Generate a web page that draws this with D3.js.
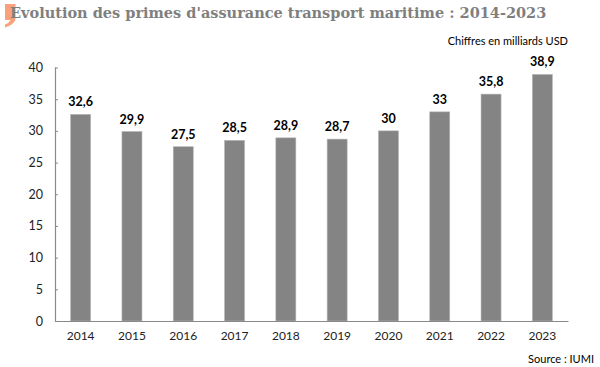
<!DOCTYPE html>
<html><head><meta charset="utf-8">
<script src="https://cdn.jsdelivr.net/npm/d3@7"></script>
<style>body{margin:0;background:#fff}svg{display:block}</style>
</head><body>
<script>
const years = ["2014","2015","2016","2017","2018","2019","2020","2021","2022","2023"];
const values = [32.6, 29.9, 27.5, 28.5, 28.9, 28.7, 30, 33, 35.8, 38.9];
const valueLabels = ["32,6","29,9","27,5","28,5","28,9","28,7","30","33","35,8","38,9"];
const yTicks = [0,5,10,15,20,25,30,35,40];
const title = "Evolution des primes d'assurance transport maritime : 2014-2023";
const subtitle = "Chiffres en milliards USD";
const source = "Source : IUMI";

const W = 600, H = 367;
const svg = d3.select("body").append("svg").attr("width", W).attr("height", H);

// decorative mark
svg.append("path")
  .attr("d", "M5,4 L15.5,4 L15.5,19 C14.5,23 10.5,26 5,27.5 L5,24.5 C7.5,23.5 9.5,22 10.5,20 L5,20 Z")
  .attr("fill", "#f7a27c");

const t = svg.append("text").attr("x", 10).attr("y", 17.5)
  .attr("font-family", "'DejaVu Serif', serif").attr("font-weight", "bold")
  .attr("font-size", 17).attr("fill", "#7f7f7f").text(title);
const tw = t.node().getComputedTextLength();
t.attr("font-size", 17 * 537 / tw);

svg.append("text").attr("x", 568).attr("y", 45).attr("text-anchor", "end")
  .attr("font-family", "Lato, sans-serif").attr("font-size", 11).attr("fill", "#000")
  .text(subtitle);
svg.append("text").attr("x", 594).attr("y", 363).attr("text-anchor", "end")
  .attr("font-family", "Lato, sans-serif").attr("font-size", 11).attr("fill", "#000")
  .text(source);

const x = d3.scaleBand().domain(years).range([55, 568]).paddingInner(0.61).paddingOuter(0.305);
const y = d3.scaleLinear().domain([0, 40]).range([321, 67.5]);

svg.selectAll("rect.bar").data(values).join("rect").attr("class","bar")
  .attr("x", (d,i) => x(years[i])).attr("width", x.bandwidth())
  .attr("y", d => y(d)).attr("height", d => y(0) - y(d))
  .attr("fill", "#848484").attr("stroke", "#b5b5b5").attr("stroke-width", 0.6);

svg.selectAll("text.vl").data(values).join("text").attr("class","vl")
  .attr("x", (d,i) => x(years[i]) + x.bandwidth()/2).attr("y", d => y(d) - 8)
  .attr("text-anchor", "middle").attr("font-family", "Lato, sans-serif")
  .attr("font-weight", "bold").attr("font-size", 12.5).attr("fill", "#000")
  .text((d,i) => valueLabels[i]);

const yAxis = svg.append("g").attr("transform", "translate(55,0)")
  .call(d3.axisRight(y).tickValues(yTicks).tickSize(3).tickFormat(""));
yAxis.select(".domain").attr("d", "M0.5,67.5V321").attr("stroke", "#8a8a8a").attr("stroke-width", 1.2);
yAxis.selectAll(".tick line").attr("stroke", "#8a8a8a");

svg.selectAll("text.yl").data(yTicks).join("text").attr("class","yl")
  .attr("x", 43).attr("y", d => y(d) + 4.5).attr("text-anchor", "end")
  .attr("font-family", "Lato, sans-serif").attr("font-size", 12.5).attr("fill", "#222")
  .text(d => d);

const xAxis = svg.append("g").attr("transform", "translate(0,321)")
  .call(d3.axisBottom(x).tickSize(0).tickPadding(10));
xAxis.select(".domain").attr("stroke", "#8a8a8a").attr("stroke-width", 1.2);
xAxis.selectAll("text").attr("font-family", "Lato, sans-serif").attr("font-size", 12).attr("fill", "#222");
</script>
</body></html>
